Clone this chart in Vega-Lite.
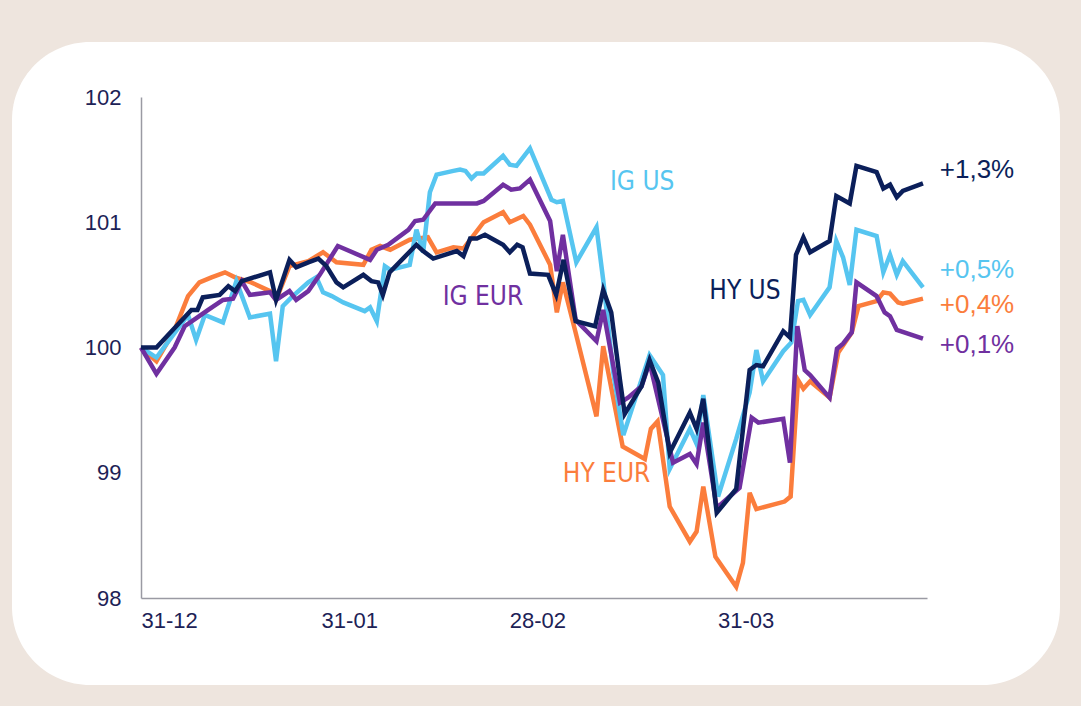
{
  "$schema": "https://vega.github.io/schema/vega-lite/v6.json",
  "autosize": {"type": "none"},
  "padding": {"left": 12, "top": 42, "right": 21, "bottom": 21},
  "width": 1048,
  "height": 643,
  "background": "#eee5de",
  "config": {
    "view": {"fill": "white", "stroke": null, "cornerRadius": 78},
    "axis": {
      "grid": false, "ticks": false, "title": null,
      "domainColor": "#9a9aa3", "domainWidth": 1.5,
      "labelFont": "Liberation Sans", "labelFontSize": 22, "labelColor": "#1d2256"
    }
  },
  "datasets": {
    "series": [
      {"s":"HY EUR","d":0,"v":100},{"s":"HY EUR","d":2.3,"v":99.89},{"s":"HY EUR","d":5,"v":100.14},{"s":"HY EUR","d":7,"v":100.41},{"s":"HY EUR","d":8.7,"v":100.52},{"s":"HY EUR","d":10.5,"v":100.56},{"s":"HY EUR","d":12.5,"v":100.6},{"s":"HY EUR","d":14,"v":100.56},{"s":"HY EUR","d":16.4,"v":100.52},{"s":"HY EUR","d":19.2,"v":100.45},{"s":"HY EUR","d":20.1,"v":100.38},{"s":"HY EUR","d":22.1,"v":100.65},{"s":"HY EUR","d":24.9,"v":100.69},{"s":"HY EUR","d":27.1,"v":100.76},{"s":"HY EUR","d":29.1,"v":100.68},{"s":"HY EUR","d":33.1,"v":100.66},{"s":"HY EUR","d":34.3,"v":100.78},{"s":"HY EUR","d":35.6,"v":100.81},{"s":"HY EUR","d":37.1,"v":100.78},{"s":"HY EUR","d":40,"v":100.86},{"s":"HY EUR","d":42.7,"v":100.88},{"s":"HY EUR","d":44,"v":100.76},{"s":"HY EUR","d":46.5,"v":100.8},{"s":"HY EUR","d":48,"v":100.79},{"s":"HY EUR","d":51,"v":101.0},{"s":"HY EUR","d":53.9,"v":101.08},{"s":"HY EUR","d":54.9,"v":101.0},{"s":"HY EUR","d":56.9,"v":101.05},{"s":"HY EUR","d":57.9,"v":100.98},{"s":"HY EUR","d":60.9,"v":100.66},{"s":"HY EUR","d":61.9,"v":100.28},{"s":"HY EUR","d":62.8,"v":100.52},{"s":"HY EUR","d":64.6,"v":100.14},{"s":"HY EUR","d":67.8,"v":99.45},{"s":"HY EUR","d":68.8,"v":100.01},{"s":"HY EUR","d":71.7,"v":99.21},{"s":"HY EUR","d":75,"v":99.11},{"s":"HY EUR","d":75.9,"v":99.35},{"s":"HY EUR","d":76.9,"v":99.41},{"s":"HY EUR","d":78.7,"v":98.73},{"s":"HY EUR","d":81.7,"v":98.45},{"s":"HY EUR","d":82.7,"v":98.53},{"s":"HY EUR","d":83.7,"v":98.89},{"s":"HY EUR","d":85.5,"v":98.33},{"s":"HY EUR","d":88.6,"v":98.09},{"s":"HY EUR","d":89.6,"v":98.28},{"s":"HY EUR","d":90.6,"v":98.84},{"s":"HY EUR","d":91.6,"v":98.71},{"s":"HY EUR","d":95.8,"v":98.77},{"s":"HY EUR","d":96.7,"v":98.81},{"s":"HY EUR","d":97.8,"v":99.74},{"s":"HY EUR","d":98.6,"v":99.67},{"s":"HY EUR","d":99.6,"v":99.73},{"s":"HY EUR","d":102.5,"v":99.6},{"s":"HY EUR","d":103.8,"v":99.96},{"s":"HY EUR","d":105.8,"v":100.12},{"s":"HY EUR","d":106.8,"v":100.33},{"s":"HY EUR","d":109.5,"v":100.37},{"s":"HY EUR","d":110.5,"v":100.44},{"s":"HY EUR","d":111.5,"v":100.43},{"s":"HY EUR","d":112.7,"v":100.36},{"s":"HY EUR","d":113.4,"v":100.35},{"s":"HY EUR","d":116.4,"v":100.39},

      {"s":"IG US","d":0,"v":100},{"s":"IG US","d":2.3,"v":99.92},{"s":"IG US","d":7,"v":100.26},{"s":"IG US","d":8.2,"v":100.06},{"s":"IG US","d":9.5,"v":100.26},{"s":"IG US","d":12.2,"v":100.2},{"s":"IG US","d":14.2,"v":100.53},{"s":"IG US","d":16.2,"v":100.24},{"s":"IG US","d":19.2,"v":100.27},{"s":"IG US","d":20.1,"v":99.89},{"s":"IG US","d":21.1,"v":100.33},{"s":"IG US","d":22.4,"v":100.4},{"s":"IG US","d":24.9,"v":100.52},{"s":"IG US","d":26.1,"v":100.56},{"s":"IG US","d":27.1,"v":100.44},{"s":"IG US","d":28.4,"v":100.41},{"s":"IG US","d":30.1,"v":100.36},{"s":"IG US","d":33.3,"v":100.29},{"s":"IG US","d":34.1,"v":100.32},{"s":"IG US","d":35.1,"v":100.21},{"s":"IG US","d":36.3,"v":100.65},{"s":"IG US","d":37.1,"v":100.62},{"s":"IG US","d":40,"v":100.66},{"s":"IG US","d":41,"v":100.94},{"s":"IG US","d":42,"v":100.76},{"s":"IG US","d":43,"v":101.24},{"s":"IG US","d":44,"v":101.38},{"s":"IG US","d":46.5,"v":101.41},{"s":"IG US","d":47.5,"v":101.42},{"s":"IG US","d":48.3,"v":101.41},{"s":"IG US","d":49.2,"v":101.35},{"s":"IG US","d":50,"v":101.39},{"s":"IG US","d":51,"v":101.39},{"s":"IG US","d":53.9,"v":101.53},{"s":"IG US","d":54.9,"v":101.46},{"s":"IG US","d":55.9,"v":101.45},{"s":"IG US","d":57.9,"v":101.59},{"s":"IG US","d":61.1,"v":101.18},{"s":"IG US","d":61.9,"v":101.16},{"s":"IG US","d":62.8,"v":101.17},{"s":"IG US","d":64.8,"v":100.68},{"s":"IG US","d":67.8,"v":100.96},{"s":"IG US","d":68.8,"v":100.54},{"s":"IG US","d":70.3,"v":99.8},{"s":"IG US","d":71.8,"v":99.3},{"s":"IG US","d":75.7,"v":99.94},{"s":"IG US","d":77.7,"v":99.78},{"s":"IG US","d":78.7,"v":99.03},{"s":"IG US","d":81.7,"v":99.35},{"s":"IG US","d":82.7,"v":99.23},{"s":"IG US","d":83.7,"v":99.62},{"s":"IG US","d":85.9,"v":98.81},{"s":"IG US","d":88.6,"v":99.27},{"s":"IG US","d":90.6,"v":99.64},{"s":"IG US","d":91.6,"v":99.98},{"s":"IG US","d":92.6,"v":99.73},{"s":"IG US","d":95.6,"v":99.97},{"s":"IG US","d":96.8,"v":100.04},{"s":"IG US","d":97.8,"v":100.37},{"s":"IG US","d":98.6,"v":100.38},{"s":"IG US","d":99.6,"v":100.26},{"s":"IG US","d":102.5,"v":100.48},{"s":"IG US","d":103.5,"v":100.85},{"s":"IG US","d":104.5,"v":100.72},{"s":"IG US","d":105.5,"v":100.5},{"s":"IG US","d":106.5,"v":100.94},{"s":"IG US","d":109.5,"v":100.89},{"s":"IG US","d":110.5,"v":100.6},{"s":"IG US","d":111.5,"v":100.74},{"s":"IG US","d":112.5,"v":100.58},{"s":"IG US","d":113.4,"v":100.69},{"s":"IG US","d":116.4,"v":100.48},

      {"s":"IG EUR","d":0,"v":100},{"s":"IG EUR","d":2.3,"v":99.79},{"s":"IG EUR","d":5,"v":100.0},{"s":"IG EUR","d":6.5,"v":100.17},{"s":"IG EUR","d":8.4,"v":100.24},{"s":"IG EUR","d":10,"v":100.3},{"s":"IG EUR","d":12.2,"v":100.38},{"s":"IG EUR","d":13.7,"v":100.39},{"s":"IG EUR","d":15,"v":100.53},{"s":"IG EUR","d":16.2,"v":100.42},{"s":"IG EUR","d":19.2,"v":100.44},{"s":"IG EUR","d":20.1,"v":100.38},{"s":"IG EUR","d":22.1,"v":100.45},{"s":"IG EUR","d":23.1,"v":100.38},{"s":"IG EUR","d":24.9,"v":100.45},{"s":"IG EUR","d":26.6,"v":100.58},{"s":"IG EUR","d":29.3,"v":100.81},{"s":"IG EUR","d":34.1,"v":100.7},{"s":"IG EUR","d":35.1,"v":100.78},{"s":"IG EUR","d":36.8,"v":100.82},{"s":"IG EUR","d":39.8,"v":100.94},{"s":"IG EUR","d":40.8,"v":101.01},{"s":"IG EUR","d":42,"v":101.02},{"s":"IG EUR","d":43.8,"v":101.15},{"s":"IG EUR","d":50,"v":101.15},{"s":"IG EUR","d":51,"v":101.17},{"s":"IG EUR","d":53.9,"v":101.3},{"s":"IG EUR","d":55.1,"v":101.26},{"s":"IG EUR","d":56.4,"v":101.27},{"s":"IG EUR","d":57.9,"v":101.34},{"s":"IG EUR","d":60.9,"v":101.01},{"s":"IG EUR","d":61.9,"v":100.61},{"s":"IG EUR","d":62.8,"v":100.9},{"s":"IG EUR","d":64.7,"v":100.22},{"s":"IG EUR","d":67.8,"v":100.05},{"s":"IG EUR","d":68.8,"v":100.3},{"s":"IG EUR","d":71.3,"v":99.56},{"s":"IG EUR","d":72.5,"v":99.6},{"s":"IG EUR","d":74.5,"v":99.69},{"s":"IG EUR","d":75.7,"v":99.88},{"s":"IG EUR","d":79.2,"v":99.08},{"s":"IG EUR","d":81.7,"v":99.15},{"s":"IG EUR","d":82.7,"v":99.07},{"s":"IG EUR","d":83.7,"v":99.4},{"s":"IG EUR","d":85.7,"v":98.72},{"s":"IG EUR","d":89.1,"v":98.88},{"s":"IG EUR","d":90.9,"v":99.44},{"s":"IG EUR","d":91.9,"v":99.4},{"s":"IG EUR","d":95.6,"v":99.43},{"s":"IG EUR","d":96.6,"v":99.08},{"s":"IG EUR","d":97.7,"v":100.17},{"s":"IG EUR","d":98.8,"v":99.82},{"s":"IG EUR","d":99.6,"v":99.78},{"s":"IG EUR","d":102.5,"v":99.6},{"s":"IG EUR","d":103.6,"v":99.99},{"s":"IG EUR","d":104.5,"v":100.03},{"s":"IG EUR","d":105.8,"v":100.12},{"s":"IG EUR","d":106.5,"v":100.52},{"s":"IG EUR","d":109.5,"v":100.41},{"s":"IG EUR","d":110.7,"v":100.28},{"s":"IG EUR","d":111.5,"v":100.25},{"s":"IG EUR","d":112.5,"v":100.14},{"s":"IG EUR","d":116.4,"v":100.07},

      {"s":"HY US","d":0,"v":100},{"s":"HY US","d":2.3,"v":100.0},{"s":"HY US","d":7.5,"v":100.3},{"s":"HY US","d":8.4,"v":100.3},{"s":"HY US","d":9.2,"v":100.4},{"s":"HY US","d":11.7,"v":100.42},{"s":"HY US","d":13,"v":100.49},{"s":"HY US","d":14,"v":100.45},{"s":"HY US","d":15,"v":100.53},{"s":"HY US","d":19.2,"v":100.6},{"s":"HY US","d":20.1,"v":100.38},{"s":"HY US","d":22.1,"v":100.7},{"s":"HY US","d":23.1,"v":100.64},{"s":"HY US","d":24.9,"v":100.68},{"s":"HY US","d":26.4,"v":100.71},{"s":"HY US","d":27.6,"v":100.65},{"s":"HY US","d":29.1,"v":100.52},{"s":"HY US","d":30.1,"v":100.48},{"s":"HY US","d":33.1,"v":100.58},{"s":"HY US","d":34.3,"v":100.53},{"s":"HY US","d":35.3,"v":100.52},{"s":"HY US","d":36,"v":100.42},{"s":"HY US","d":37,"v":100.6},{"s":"HY US","d":41,"v":100.82},{"s":"HY US","d":42,"v":100.77},{"s":"HY US","d":43.5,"v":100.71},{"s":"HY US","d":47,"v":100.77},{"s":"HY US","d":48,"v":100.73},{"s":"HY US","d":49,"v":100.87},{"s":"HY US","d":50,"v":100.87},{"s":"HY US","d":51.2,"v":100.9},{"s":"HY US","d":53.9,"v":100.82},{"s":"HY US","d":54.9,"v":100.76},{"s":"HY US","d":56,"v":100.82},{"s":"HY US","d":56.8,"v":100.8},{"s":"HY US","d":57.9,"v":100.59},{"s":"HY US","d":60.6,"v":100.58},{"s":"HY US","d":61.8,"v":100.42},{"s":"HY US","d":62.9,"v":100.7},{"s":"HY US","d":64.7,"v":100.21},{"s":"HY US","d":67.6,"v":100.17},{"s":"HY US","d":68.8,"v":100.46},{"s":"HY US","d":70,"v":100.28},{"s":"HY US","d":71.3,"v":99.74},{"s":"HY US","d":72,"v":99.47},{"s":"HY US","d":74.5,"v":99.69},{"s":"HY US","d":75.7,"v":99.9},{"s":"HY US","d":77,"v":99.72},{"s":"HY US","d":78.7,"v":99.16},{"s":"HY US","d":81.7,"v":99.48},{"s":"HY US","d":82.7,"v":99.35},{"s":"HY US","d":83.7,"v":99.59},{"s":"HY US","d":85.7,"v":98.68},{"s":"HY US","d":88.6,"v":98.87},{"s":"HY US","d":90.6,"v":99.82},{"s":"HY US","d":91.6,"v":99.86},{"s":"HY US","d":92.6,"v":99.85},{"s":"HY US","d":95.6,"v":100.13},{"s":"HY US","d":96.6,"v":100.08},{"s":"HY US","d":97.5,"v":100.74},{"s":"HY US","d":98.6,"v":100.88},{"s":"HY US","d":99.6,"v":100.76},{"s":"HY US","d":102.5,"v":100.85},{"s":"HY US","d":103.5,"v":101.21},{"s":"HY US","d":105.5,"v":101.15},{"s":"HY US","d":106.5,"v":101.45},{"s":"HY US","d":109.5,"v":101.4},{"s":"HY US","d":110.5,"v":101.27},{"s":"HY US","d":111.5,"v":101.3},{"s":"HY US","d":112.5,"v":101.2},{"s":"HY US","d":113.4,"v":101.25},{"s":"HY US","d":116.4,"v":101.31}
    ],
    "names": [
      {"s":"IG US","t":"IG US","d":74.6,"v":101.32},
      {"s":"IG EUR","t":"IG EUR","d":50.9,"v":100.4},
      {"s":"HY US","t":"HY US","d":89.9,"v":100.45},
      {"s":"HY EUR","t":"HY EUR","d":69.3,"v":98.99}
    ],
    "ends": [
      {"s":"HY US","t":"+1,3%","d":118.9,"v":101.42},
      {"s":"IG US","t":"+0,5%","d":118.9,"v":100.62},
      {"s":"HY EUR","t":"+0,4%","d":118.9,"v":100.34},
      {"s":"IG EUR","t":"+0,1%","d":118.9,"v":100.02}
    ]
  },
  "encoding": {
    "x": {
      "field": "d", "type": "quantitative",
      "scale": {"domain": [0, 117], "range": [129, 915], "nice": false, "zero": false},
      "axis": {
        "values": [0, 31, 59, 90], "offset": -87, "labelPadding": 12,
        "labelExpr": "datum.value == 0 ? '31-12' : datum.value == 31 ? '31-01' : datum.value == 59 ? '28-02' : '31-03'"
      }
    },
    "y": {
      "field": "v", "type": "quantitative",
      "scale": {"domain": [98, 102], "range": [556, 55], "nice": false, "zero": false},
      "axis": {"values": [98, 99, 100, 101, 102], "offset": -129, "labelPadding": 20}
    },
    "color": {
      "field": "s", "type": "nominal",
      "scale": {"domain": ["HY EUR", "IG US", "IG EUR", "HY US"], "range": ["#fb7d3c", "#56c5f0", "#7030a0", "#0b1f5a"]},
      "legend": null
    }
  },
  "layer": [
    {
      "data": {"name": "series"},
      "mark": {"type": "line", "strokeWidth": 4.5, "strokeJoin": "miter"}
    },
    {
      "data": {"name": "names"},
      "mark": {"type": "text", "font": "DejaVu Sans Condensed, Roboto, sans-serif", "fontSize": 26, "fontWeight": 500, "align": "center", "baseline": "middle"},
      "encoding": {"text": {"field": "t"}}
    },
    {
      "data": {"name": "ends"},
      "mark": {"type": "text", "font": "Liberation Sans", "fontSize": 26, "align": "left", "baseline": "middle"},
      "encoding": {"text": {"field": "t"}}
    }
  ]
}
